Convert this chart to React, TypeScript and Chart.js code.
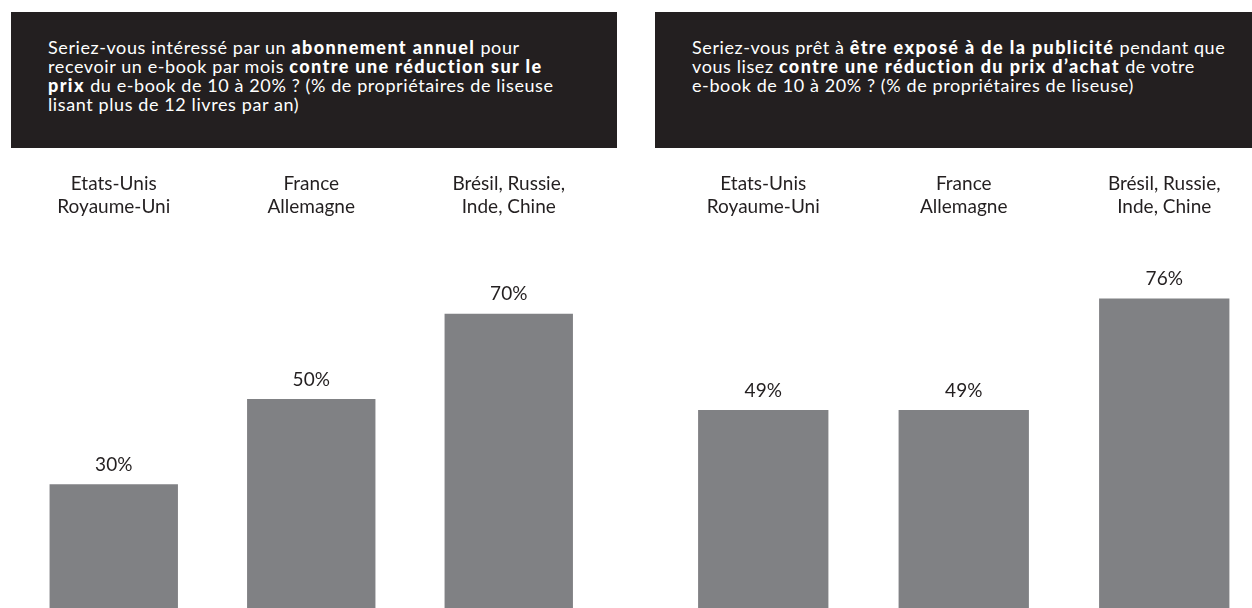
import React, { useEffect, useRef } from "react";
import { Chart, registerables } from "chart.js";

Chart.register(...registerables);

const categories: string[][] = [
  ["Etats-Unis", "Royaume-Uni"],
  ["France", "Allemagne"],
  ["Brésil, Russie,", "Inde, Chine"],
];
const subscriptionValues = [30, 50, 70];
const advertisingValues = [49, 49, 76];
const subscriptionAxisMax = 90;
const advertisingAxisMax = 93;

const FONT = "Lato, 'Noto Sans', sans-serif";
const DARK = "#231f20";
const BAR = "#808184";

const valueLabelPlugin = {
  id: "valueLabels",
  afterDatasetsDraw(chart: any) {
    const ctx = chart.ctx;
    const meta = chart.getDatasetMeta(0);
    const data = chart.data.datasets[0].data;
    ctx.save();
    ctx.font = `19px ${FONT}`;
    ctx.fillStyle = DARK;
    ctx.textAlign = "center";
    ctx.textBaseline = "middle";
    meta.data.forEach((el: any, i: number) => {
      ctx.fillText(`${data[i]}%`, el.x, el.y - 19.5);
    });
    ctx.restore();
  },
};

type BarProps = {
  values: number[];
  max: number;
  left: number;
  width: number;
  padLeft: number;
  padRight: number;
};

function BarPanel({ values, max, left, width, padLeft, padRight }: BarProps) {
  const ref = useRef<HTMLCanvasElement | null>(null);
  useEffect(() => {
    if (!ref.current) return;
    const chart = new Chart(ref.current, {
      type: "bar",
      data: {
        labels: categories,
        datasets: [
          {
            data: values,
            backgroundColor: BAR,
            borderWidth: 0,
            barPercentage: 0.65,
            categoryPercentage: 1,
          },
        ],
      },
      options: {
        animation: false,
        responsive: true,
        maintainAspectRatio: false,
        layout: { padding: { left: padLeft, right: padRight, top: 2.5, bottom: 0 } },
        plugins: {
          legend: { display: false },
          tooltip: { enabled: false },
          title: { display: false },
        },
        scales: {
          x: {
            position: "top",
            grid: { display: false, drawTicks: false },
            border: { display: false },
            ticks: {
              color: DARK,
              font: { family: FONT, size: 19, lineHeight: 1.21 },
              padding: 10,
              maxRotation: 0,
              autoSkip: false,
            },
          },
          y: { display: false, min: 0, max },
        },
      },
      plugins: [valueLabelPlugin],
    } as any);
    return () => chart.destroy();
  }, [values, max, padLeft, padRight]);
  return (
    <div style={{ position: "absolute", left, top: 160, width, height: 452 }}>
      <canvas ref={ref} />
    </div>
  );
}

const boxStyle = (left: number, width: number): React.CSSProperties => ({
  position: "absolute",
  left,
  top: 12,
  width,
  height: 136,
  background: DARK,
  color: "#ffffff",
  boxSizing: "border-box",
  padding: "26px 0 0 37px",
  fontFamily: FONT,
  fontSize: 18,
  letterSpacing: "0.6px",
  lineHeight: "19px",
  whiteSpace: "nowrap",
});

const B = ({ children }: { children: React.ReactNode }) => (
  <b style={{ fontWeight: 900, letterSpacing: "1.4px" }}>{children}</b>
);

export default function App() {
  return (
    <div
      style={{
        position: "absolute",
        left: 0,
        top: 0,
        width: 1252,
        height: 608,
        overflow: "hidden",
        background: "#ffffff",
      }}
    >
      <div style={boxStyle(11, 606)}>
        Seriez-vous intéressé par un <B>abonnement annuel</B> pour
        <br />
        recevoir un e-book par mois <B>contre une réduction sur le</B>
        <br />
        <B>prix</B> du e-book de 10 à 20% ? (% de propriétaires de liseuse
        <br />
        lisant plus de 12 livres par an)
      </div>
      <div style={boxStyle(655, 597)}>
        Seriez-vous prêt à <B>être exposé à de la publicité</B> pendant que
        <br />
        vous lisez <B>contre une réduction du prix d’achat</B> de votre
        <br />
        e-book de 10 à 20% ? (% de propriétaires de liseuse)
      </div>
      <BarPanel
        values={subscriptionValues}
        max={subscriptionAxisMax}
        left={0}
        width={626}
        padLeft={15}
        padRight={18.5}
      />
      <BarPanel
        values={advertisingValues}
        max={advertisingAxisMax}
        left={656}
        width={616}
        padLeft={7}
        padRight={7.5}
      />
    </div>
  );
}
